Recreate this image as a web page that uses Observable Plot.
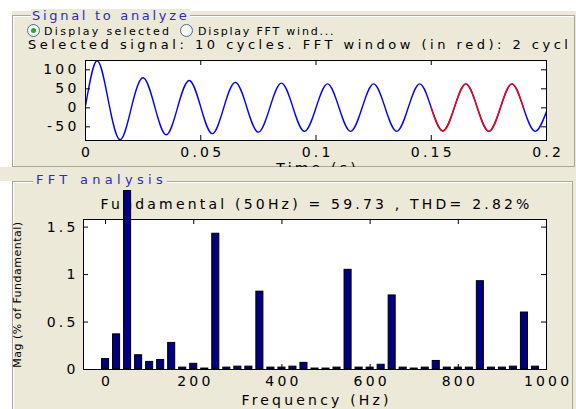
<!DOCTYPE html>
<html>
<head>
<meta charset="utf-8">
<script src="https://cdn.jsdelivr.net/npm/d3@7"></script>
<script src="https://cdn.jsdelivr.net/npm/@observablehq/plot@0.6"></script>
<style>
html, body { margin: 0; padding: 0; background: #ffffff; }
#root { position: relative; width: 576px; height: 409px; overflow: hidden; background: #ffffff; font-family: "DejaVu Sans", sans-serif; color: #000; }
.abs { position: absolute; }
.beige { position: absolute; background: #ECE9D8; }
.gbox { position: absolute; border: 1px solid #A9A798; box-shadow: inset 1px 1px 0 #ffffff; }
.gtitle { position: absolute; background: #ECE9D8; color: #2B2BCB; font-size: 13px; line-height: 13px; white-space: nowrap; }
.ui { position: absolute; white-space: nowrap; color: #000; }
.radio { position: absolute; width: 11px; height: 11px; border: 1px solid #4A6F9C; border-radius: 50%;
  background: radial-gradient(circle at 40% 40%, #ffffff 40%, #dedcd2 100%); }
.radio.on::after { content: ""; position: absolute; left: 3px; top: 3px; width: 5px; height: 5px; border-radius: 50%; background: #23A823; }
</style>
</head>
<body>
<div id="root">
  <div class="beige" style="left:12px;top:11px;width:564px;height:156px"></div>
  <div class="beige" style="left:0;top:167px;width:576px;height:14px"></div>
  <div class="beige" style="left:12px;top:181px;width:564px;height:228px"></div>
  <div class="gbox" style="left:12px;top:15px;width:561px;height:150px"></div>
  <div class="gbox" style="left:12px;top:181px;width:559px;height:240px"></div>
  <div class="gtitle" id="t1" style="left:31px;top:9px;padding:0 1px;letter-spacing:2.7px"></div>
  <div class="gtitle" id="t2" style="left:33px;top:173px;padding:0 0 0 3px;letter-spacing:4.3px"></div>
  <div class="radio on" style="left:27px;top:24px"></div>
  <div class="radio" style="left:180px;top:24px"></div>
  <div class="ui" id="r1" style="left:44px;top:26px;font-size:11px;line-height:11px;letter-spacing:2.3px"></div>
  <div class="ui" id="r2" style="left:198px;top:26px;font-size:11px;line-height:11px;letter-spacing:1.8px"></div>
  <div class="ui" id="sel" style="left:28px;top:38px;font-size:13px;line-height:13px;letter-spacing:3.5px"></div>
  <div class="abs" id="topPlot" style="left:0;top:50px;width:576px;height:117px;overflow:hidden"></div>
  <div class="abs" id="fftPlot" style="left:0;top:185px;width:576px;height:224px;overflow:hidden"></div>
</div>
<script>
// ---- Texts ----
const panel1Title = "Signal to analyze";
const panel2Title = "FFT analysis";
const radio1Label = "Display selected";
const radio2Label = "Display FFT wind...";
const selectedText = "Selected signal: 10 cycles. FFT window (in red): 2 cycl";
const timeLabel = "Time (s)";
const fftTitle = "Fundamental (50Hz) = 59.73 , THD= 2.82%";
const freqLabel = "Frequency (Hz)";
const magLabel = "Mag (% of Fundamental)";

// ---- Signal (read at peaks, troughs and zero crossings) ----
const times = [0, 0.005, 0.01, 0.015, 0.02, 0.025, 0.03, 0.035, 0.04, 0.045,
  0.05, 0.055, 0.06, 0.065, 0.07, 0.075, 0.08, 0.085, 0.09, 0.095,
  0.1, 0.105, 0.11, 0.115, 0.12, 0.125, 0.13, 0.135, 0.14, 0.145,
  0.15, 0.155, 0.16, 0.165, 0.17, 0.175, 0.18, 0.185, 0.19, 0.195, 0.2];
const signal = [5, 124, 16, -84, 3, 79, 4, -71, 2, 72,
  2, -68, 1, 67, 1, -64, 1, 65, 1, -62,
  0, 63, 0, -62, 0, 63, 0, -62, 0, 63,
  0, -61, 0, 63, 0, -62, 0, 63, 0, -62, -10];
const windowStart = 0.15;
const windowEnd = 0.19;
const timeTicks = [0, 0.05, 0.1, 0.15, 0.2];
const signalTicks = [-50, 0, 50, 100];
const signalDomain = [-86, 124.5];

// ---- FFT spectrum ----
const freqs = [0, 25, 50, 75, 100, 125, 150, 175, 200, 225,
  250, 275, 300, 325, 350, 375, 400, 425, 450, 475,
  500, 525, 550, 575, 600, 625, 650, 675, 700, 725,
  750, 775, 800, 825, 850, 875, 900, 925, 950, 975];
const mags = [0.11, 0.37, 1.88, 0.15, 0.08, 0.10, 0.28, 0.02, 0.06, 0.01,
  1.43, 0.02, 0.03, 0.03, 0.82, 0.02, 0.02, 0.03, 0.07, 0.01,
  0.01, 0.02, 1.05, 0.02, 0.02, 0.05, 0.78, 0.02, 0.01, 0.02,
  0.09, 0.02, 0.02, 0.02, 0.93, 0.02, 0.02, 0.03, 0.60, 0.03];
const freqTicks = [0, 200, 400, 600, 800, 1000];
const magTicks = [0, 0.5, 1, 1.5];
const freqDomain = [-50, 1000];
const magDomain = [0, 1.58];

document.getElementById("t1").textContent = panel1Title;
document.getElementById("t2").textContent = panel2Title;
document.getElementById("r1").textContent = radio1Label;
document.getElementById("r2").textContent = radio2Label;
document.getElementById("sel").textContent = selectedText;

const svgStyle = {background: "transparent", fontFamily: "DejaVu Sans, sans-serif", fontSize: "14px", letterSpacing: "3.2px", color: "black", overflow: "visible"};
const ls = 3.2;

// ---- Top plot ----
const sig = times.map((t, i) => ({t, v: signal[i]}));
const win = sig.filter(d => d.t >= windowStart && d.t <= windowEnd);
const topH = 130, topMT = 10, topMB = 40, topML = 85, topMR = 30;
const topInnerH = topH - topMT - topMB, topInnerW = 576 - topML - topMR;
const tick = 5;

const topChart = Plot.plot({
  width: 576, height: topH,
  marginLeft: topML, marginRight: topMR, marginTop: topMT, marginBottom: topMB,
  style: svgStyle,
  x: {domain: [0, 0.2]},
  y: {domain: signalDomain},
  marks: [
    Plot.frame({fill: "white"}),
    Plot.line(sig, {x: "t", y: "v", stroke: "#0000FF", strokeWidth: 1.4, curve: "natural", clip: true}),
    Plot.line(win, {x: "t", y: "v", stroke: "#FF0000", strokeWidth: 1.4, curve: "natural", clip: true}),
    Plot.tickX(timeTicks, {x: d => d, insetTop: topInnerH - tick, stroke: "black"}),
    Plot.tickX(timeTicks, {x: d => d, insetBottom: topInnerH - tick, stroke: "black"}),
    Plot.tickY(signalTicks, {y: d => d, insetRight: topInnerW - tick, stroke: "black"}),
    Plot.tickY(signalTicks, {y: d => d, insetLeft: topInnerW - tick, stroke: "black"}),
    Plot.frame({stroke: "black"}),
    Plot.axisX(timeTicks, {tickSize: 0, tickPadding: 7, tickFormat: d => String(d), label: null, dx: ls / 2}),
    Plot.axisY(signalTicks, {tickSize: 0, tickPadding: 6, tickFormat: d => String(d), label: null}),
    Plot.text([timeLabel], {frameAnchor: "bottom", lineAnchor: "top", textAnchor: "middle", dy: 23, dx: ls / 2})
  ]
});
document.getElementById("topPlot").appendChild(topChart);

// ---- FFT plot ----
const bars = freqs.map((f, i) => ({f, m: mags[i]}));
const fH = 224, fMT = 34, fMB = 40, fML = 83, fMR = 30;
const fInnerH = fH - fMT - fMB, fInnerW = 576 - fML - fMR;
const halfBar = 8;

const fftChart = Plot.plot({
  width: 576, height: fH,
  marginLeft: fML, marginRight: fMR, marginTop: fMT, marginBottom: fMB,
  style: svgStyle,
  x: {domain: freqDomain},
  y: {domain: magDomain},
  marks: [
    Plot.frame({fill: "white"}),
    Plot.text([fftTitle], {frameAnchor: "top", lineAnchor: "middle", textAnchor: "middle", dy: -15, dx: ls / 2}),
    Plot.rect(bars, {x1: d => d.f - halfBar, x2: d => d.f + halfBar, y1: d => 0, y2: "m", fill: "#000080", stroke: "black", strokeWidth: 1}),
    Plot.tickX(freqTicks, {x: d => d, insetTop: fInnerH - tick, stroke: "black"}),
    Plot.tickX(freqTicks, {x: d => d, insetBottom: fInnerH - tick, stroke: "black"}),
    Plot.tickY(magTicks, {y: d => d, insetRight: fInnerW - tick, stroke: "black"}),
    Plot.tickY(magTicks, {y: d => d, insetLeft: fInnerW - tick, stroke: "black"}),
    Plot.frame({stroke: "black"}),
    Plot.axisX(freqTicks, {tickSize: 0, tickPadding: 7, tickFormat: d => String(d), label: null, dx: ls / 2}),
    Plot.axisY(magTicks, {tickSize: 0, tickPadding: 5, tickFormat: d => String(d), label: null}),
    Plot.text([freqLabel], {frameAnchor: "bottom", lineAnchor: "top", textAnchor: "middle", dy: 26, dx: ls / 2}),
    Plot.text([magLabel], {frameAnchor: "left", lineAnchor: "middle", textAnchor: "middle", rotate: -90, dx: -66, fontSize: 11})
  ]
});
d3.select(fftChart).selectAll("text").filter(function() { return this.textContent === magLabel; })
  .style("letter-spacing", "0.5px");
document.getElementById("fftPlot").appendChild(fftChart);
</script>
</body>
</html>
